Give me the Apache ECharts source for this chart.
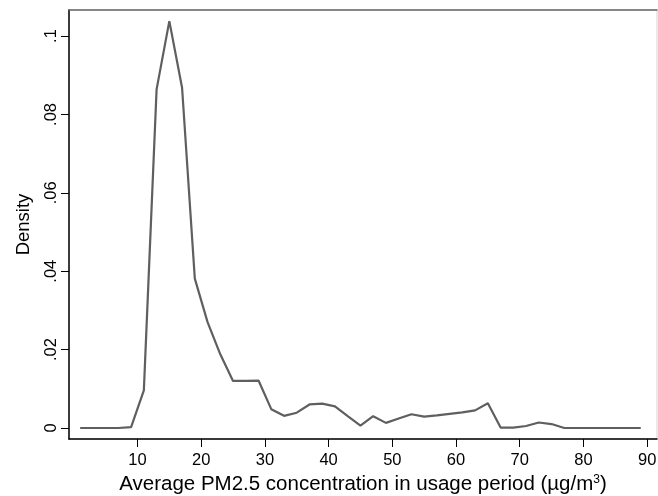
<!DOCTYPE html>
<html>
<head>
<meta charset="utf-8">
<script src="https://cdn.jsdelivr.net/npm/echarts@6/dist/echarts.min.js"></script>
<style>html,body{margin:0;padding:0;background:#fff}#c{width:658px;height:496px}</style>
</head>
<body>
<div id="c"></div>
<script>
var pm25 = [1,3,5,7,9,11,13,15,17,19,21,23,25,27,29,31,33,35,37,39,41,43,45,47,49,51,53,55,57,59,61,63,65,67,69,71,73,75,77,79,81,83,85,87,89];
var density = [0,0,0,0,0.0002,0.0096,0.0864,0.1038,0.0868,0.0381,0.027,0.0188,0.012,0.012,0.0121,0.0048,0.0031,0.0039,0.006,0.0062,0.0055,0.0030,0.0006,0.003,0.0013,0.0024,0.0035,0.0029,0.0032,0.0036,0.004,0.0045,0.0063,0.0001,0.0001,0.0005,0.0014,0.001,0,0,0,0,0,0,0];
var xTicks = [10,20,30,40,50,60,70,80,90];
var yTicks = [0,0.02,0.04,0.06,0.08,0.1];

var FONT = '"Liberation Sans", Arial, sans-serif';
var chart = echarts.init(document.getElementById('c'), null, {renderer:'canvas'});
chart.setOption({
  animation:false,
  grid:{left:69, right:1, top:10, bottom:57, containLabel:false, outerBoundsMode:'none', show:true, borderColor:'#d4d4d4', borderWidth:1, backgroundColor:'#fff'},
  xAxis:[{
    type:'value', min:-0.75, max:91.55,
    axisLine:{show:true, onZero:false, lineStyle:{color:'#000', width:1.5}},
    axisTick:{show:true, customValues:xTicks, length:8, lineStyle:{color:'#000', width:1}},
    axisLabel:{show:true, customValues:xTicks, margin:13, fontSize:16.5, color:'#000', fontFamily:FONT},
    splitLine:{show:false},
    name:'{a|Average PM2.5 concentration in usage period (µg/m}{s|3}{a|)}',
    nameLocation:'middle', nameGap:34,
    nameTextStyle:{fontFamily:FONT, color:'#000', rich:{
      a:{fontSize:20.5, fontFamily:FONT, color:'#000'},
      s:{fontSize:12, fontFamily:FONT, color:'#000', verticalAlign:'top', padding:[0,0,9,0]}
    }}
  },{
    type:'value', position:'top', min:-0.75, max:91.55,
    axisLine:{show:true, onZero:false, lineStyle:{color:'#666', width:1.5}},
    axisTick:{show:false}, axisLabel:{show:false}, splitLine:{show:false}
  }],
  yAxis:{
    type:'value', min:-0.00281, max:0.10664,
    axisLine:{show:true, onZero:false, lineStyle:{color:'#000', width:1.5}},
    axisTick:{show:true, customValues:yTicks, length:8, lineStyle:{color:'#000', width:1}},
    axisLabel:{show:true, customValues:yTicks, rotate:90, margin:9, fontSize:16.5, color:'#000', fontFamily:FONT,
      formatter:function(v){ if(v===0) return '0'; var s=(Math.round(v*100)/100).toFixed(2).replace(/^0/,''); return s.replace(/0$/,''); }},
    splitLine:{show:false},
    name:'Density', nameLocation:'middle', nameGap:36,
    nameTextStyle:{fontSize:18.5, fontFamily:FONT, color:'#000'}
  },
  series:[{
    type:'line', xAxisIndex:0, yAxisIndex:0,
    data: pm25.map(function(x,i){return [x, density[i]];}),
    showSymbol:false, symbol:'none',
    lineStyle:{color:'#5f5f5f', width:2.2},
    z:3
  }]
});
</script>
</body>
</html>
